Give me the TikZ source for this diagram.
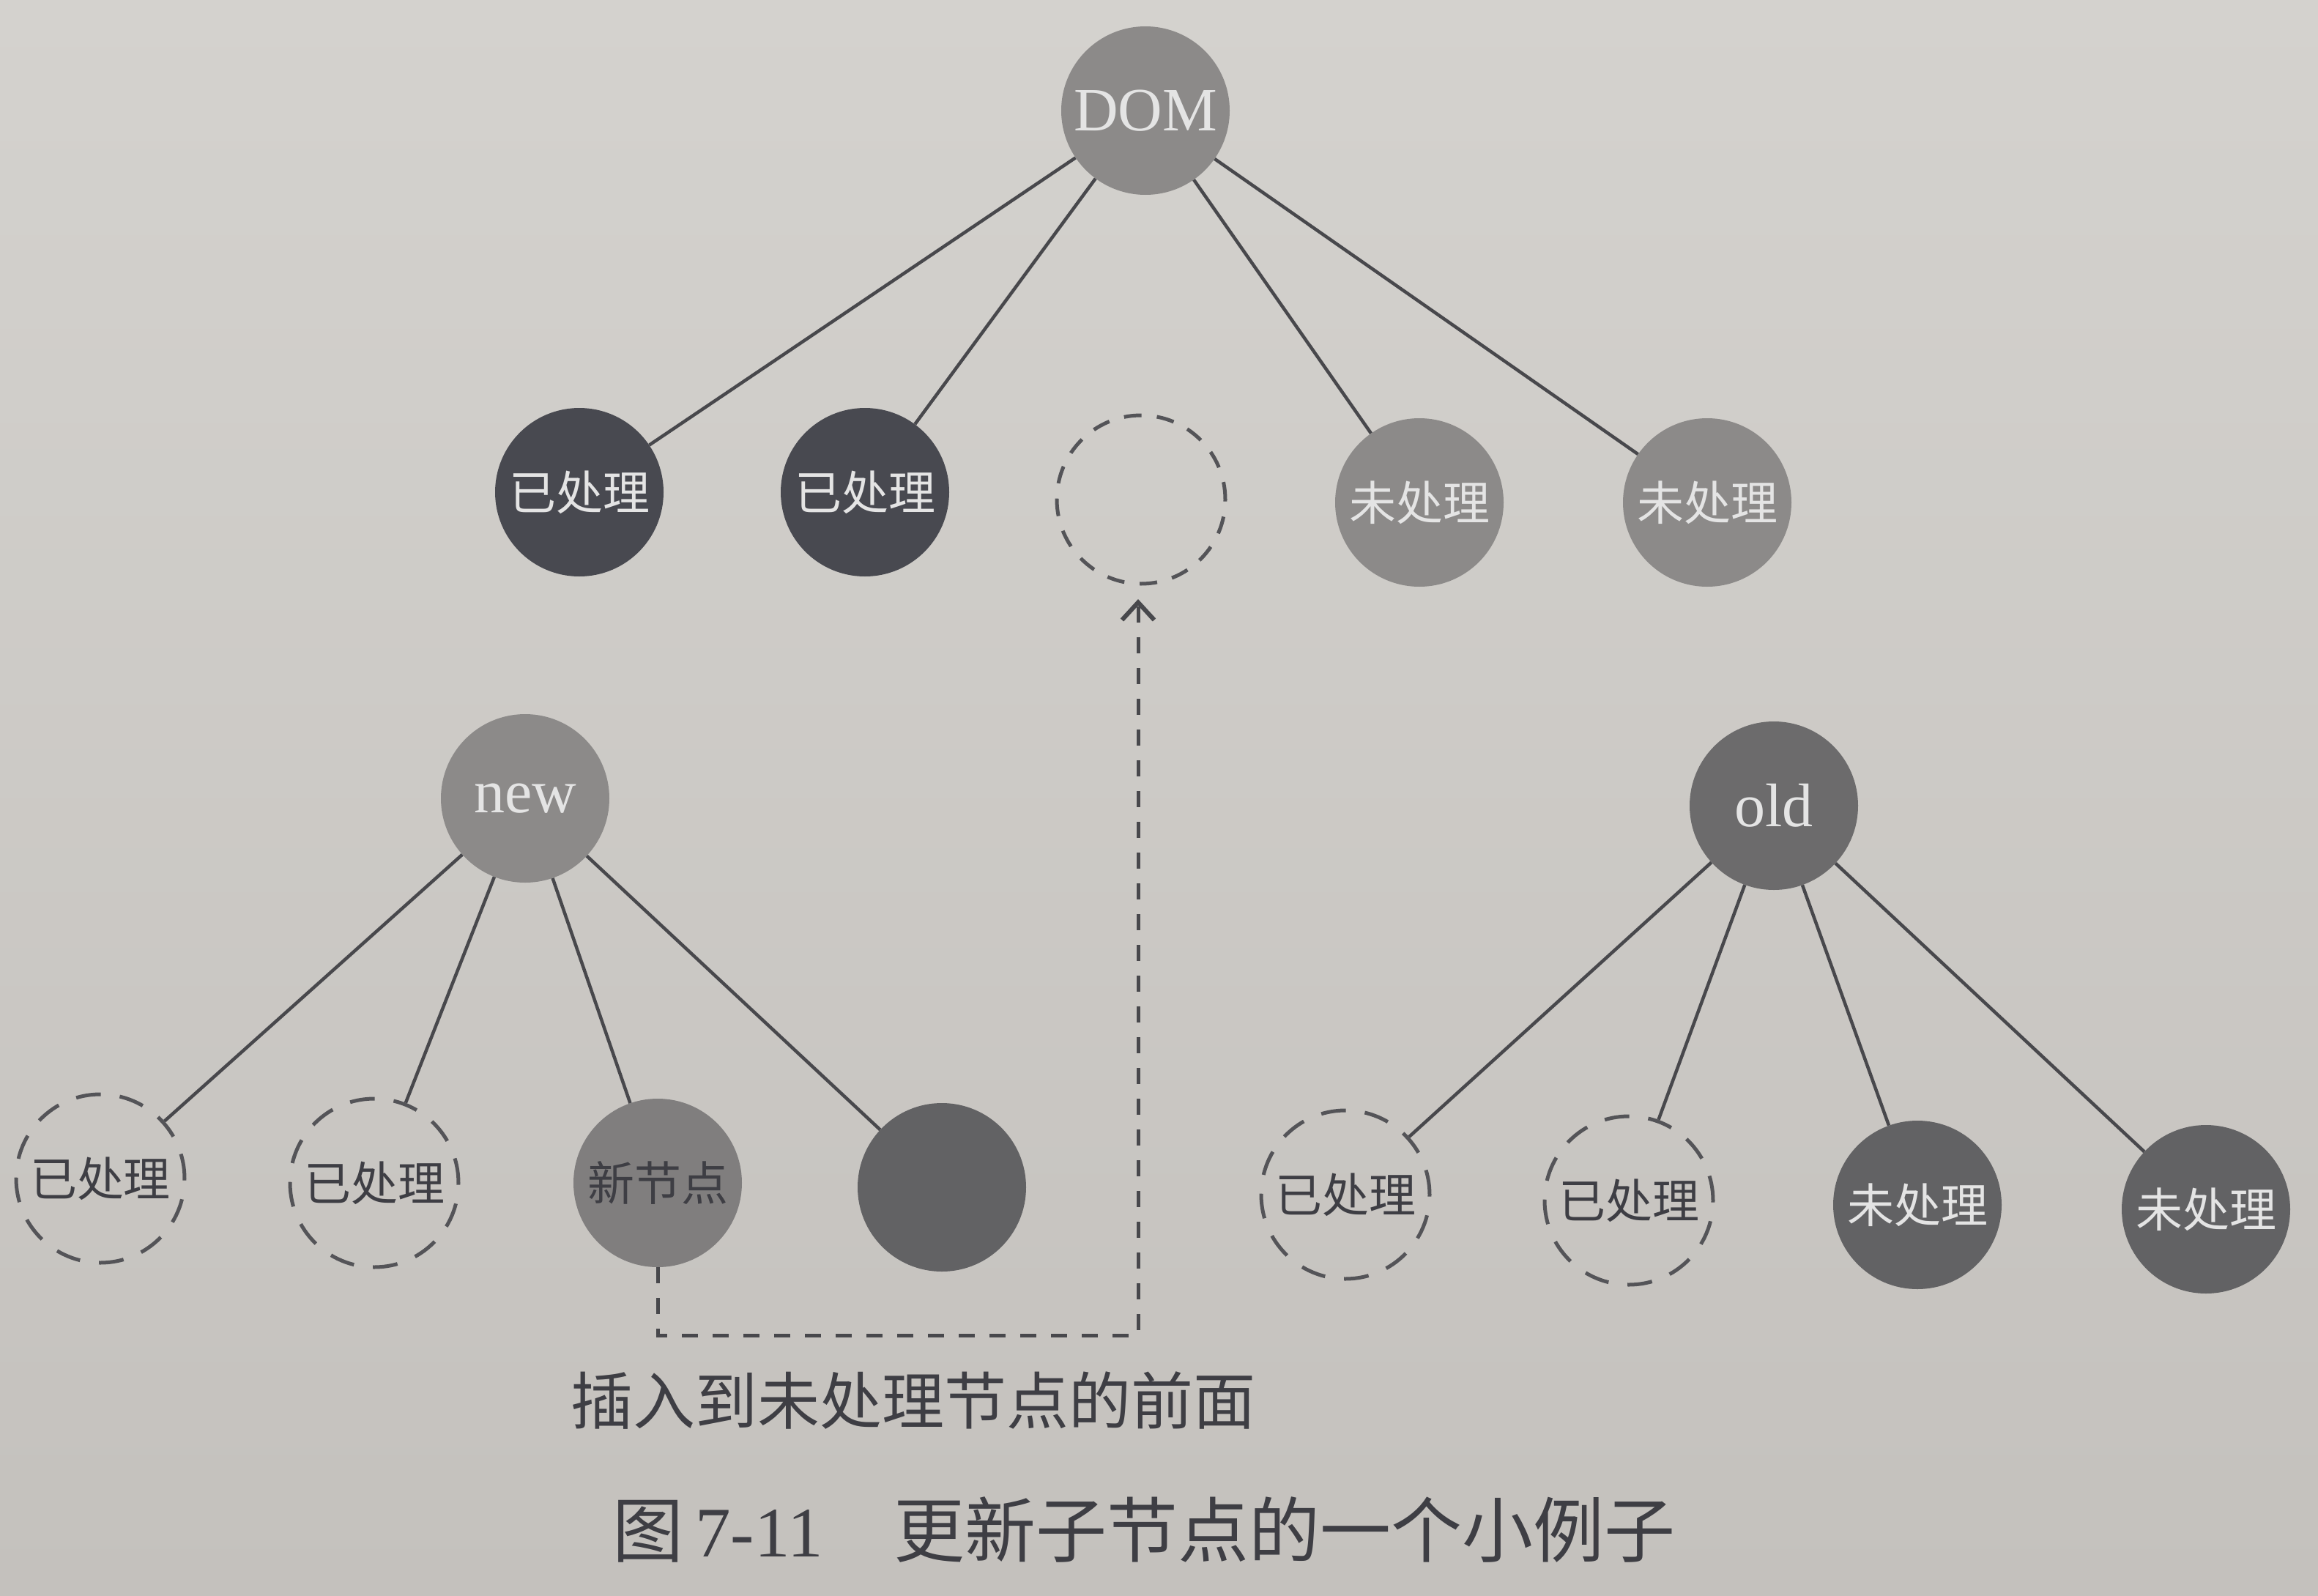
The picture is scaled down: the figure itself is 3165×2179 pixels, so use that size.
\documentclass[tikz,border=0pt]{standalone}
\usepackage{fontspec}
\setmainfont{Liberation Serif}
\newfontfamily\cjk{Noto Sans CJK SC}
\usetikzlibrary{arrows.meta}
\definecolor{papertop}{RGB}{212,210,206}
\definecolor{paperbot}{RGB}{196,193,189}
\definecolor{linec}{RGB}{72,72,76}
\definecolor{dashc}{RGB}{84,84,88}
\definecolor{midg}{RGB}{140,138,137}
\definecolor{darkslate}{RGB}{72,73,80}
\definecolor{oldg}{RGB}{108,107,108}
\definecolor{newnode}{RGB}{128,126,126}
\definecolor{darkg}{RGB}{98,98,100}
\definecolor{lighttext}{RGB}{228,228,228}
\definecolor{darktext}{RGB}{62,62,68}
\newcommand\latinlbl{\fontsize{84pt}{100pt}\selectfont}
\newcommand\cjklbl{\cjk\fontsize{64pt}{76pt}\selectfont}
\begin{document}
\begin{tikzpicture}[x=1pt,y=-1pt,
  circ/.style={circle,minimum size=230pt,inner sep=0pt},
  filled/.style={circ,fill=#1,text=lighttext},
  dashtop/.style={circ,draw=dashc,line width=5pt,dash pattern=on 24pt off 21pt},
  dashbot/.style={circ,draw=dashc,line width=5pt,dash pattern=on 34pt off 26pt,text=darktext},
  conn/.style={draw=linec,line width=4.5pt},
  insertpath/.style={draw=linec,line width=5pt,dash pattern=on 22pt off 20pt,
    -{Straight Barb[length=24pt,width=44pt,line width=6pt]}}]
\useasboundingbox (0,0) rectangle (3165,2179);
\shade[top color=papertop,bottom color=paperbot] (0,0) rectangle (3165,2179);

% top tree
\node[filled=midg] (dom) at (1564,151) {\latinlbl DOM};
\node[filled=darkslate] (t1) at (791,672) {\cjklbl 已处理};
\node[filled=darkslate] (t2) at (1181,672) {\cjklbl 已处理};
\node[dashtop] (t3) at (1558,682) {};
\node[filled=midg] (t4) at (1938,686) {\cjklbl 未处理};
\node[filled=midg] (t5) at (2331,686) {\cjklbl 未处理};
\draw[conn] (dom) -- (t1);
\draw[conn] (dom) -- (t2);
\draw[conn] (dom) -- (t4);
\draw[conn] (dom) -- (t5);

% new tree
\node[filled=midg] (new) at (717,1090) {\latinlbl new};
\node[dashbot] (n1) at (137,1609) {\cjklbl 已处理};
\node[dashbot] (n2) at (511,1615) {\cjklbl 已处理};
\node[circ,fill=newnode,text=darktext] (n3) at (898,1615) {\cjklbl 新节点};
\node[filled=darkg] (n4) at (1286,1621) {};
\draw[conn] (new) -- (n1);
\draw[conn] (new) -- (n2);
\draw[conn] (new) -- (n3);
\draw[conn] (new) -- (n4);

% old tree
\node[filled=oldg] (old) at (2422,1100) {\latinlbl old};
\node[dashbot] (o1) at (1837,1631) {\cjklbl 已处理};
\node[dashbot] (o2) at (2224,1639) {\cjklbl 已处理};
\node[filled=darkg] (o3) at (2618,1645) {\cjklbl 未处理};
\node[filled=darkg] (o4) at (3012,1651) {\cjklbl 未处理};
\draw[conn] (old) -- (o1);
\draw[conn] (old) -- (o2);
\draw[conn] (old) -- (o3);
\draw[conn] (old) -- (o4);

% insert arrow
\coordinate (c1) at (898,1823);
\coordinate (c2) at (1554,1823);
\coordinate (tip) at (1554,818);
\draw[insertpath] (n3.south) -- (c1) -- (c2) -- (tip);

% texts
\node[text=darktext] (note) at (1247,1912) {\cjk\fontsize{85pt}{100pt}\selectfont 插入到未处理节点的前面};
\node[text=darktext] (cap) at (1562,2088) {\fontsize{97pt}{116pt}\selectfont{\cjk 图}\,7-11\hspace{1em}{\cjk 更新子节点的一个小例子}};
\end{tikzpicture}
\end{document}
